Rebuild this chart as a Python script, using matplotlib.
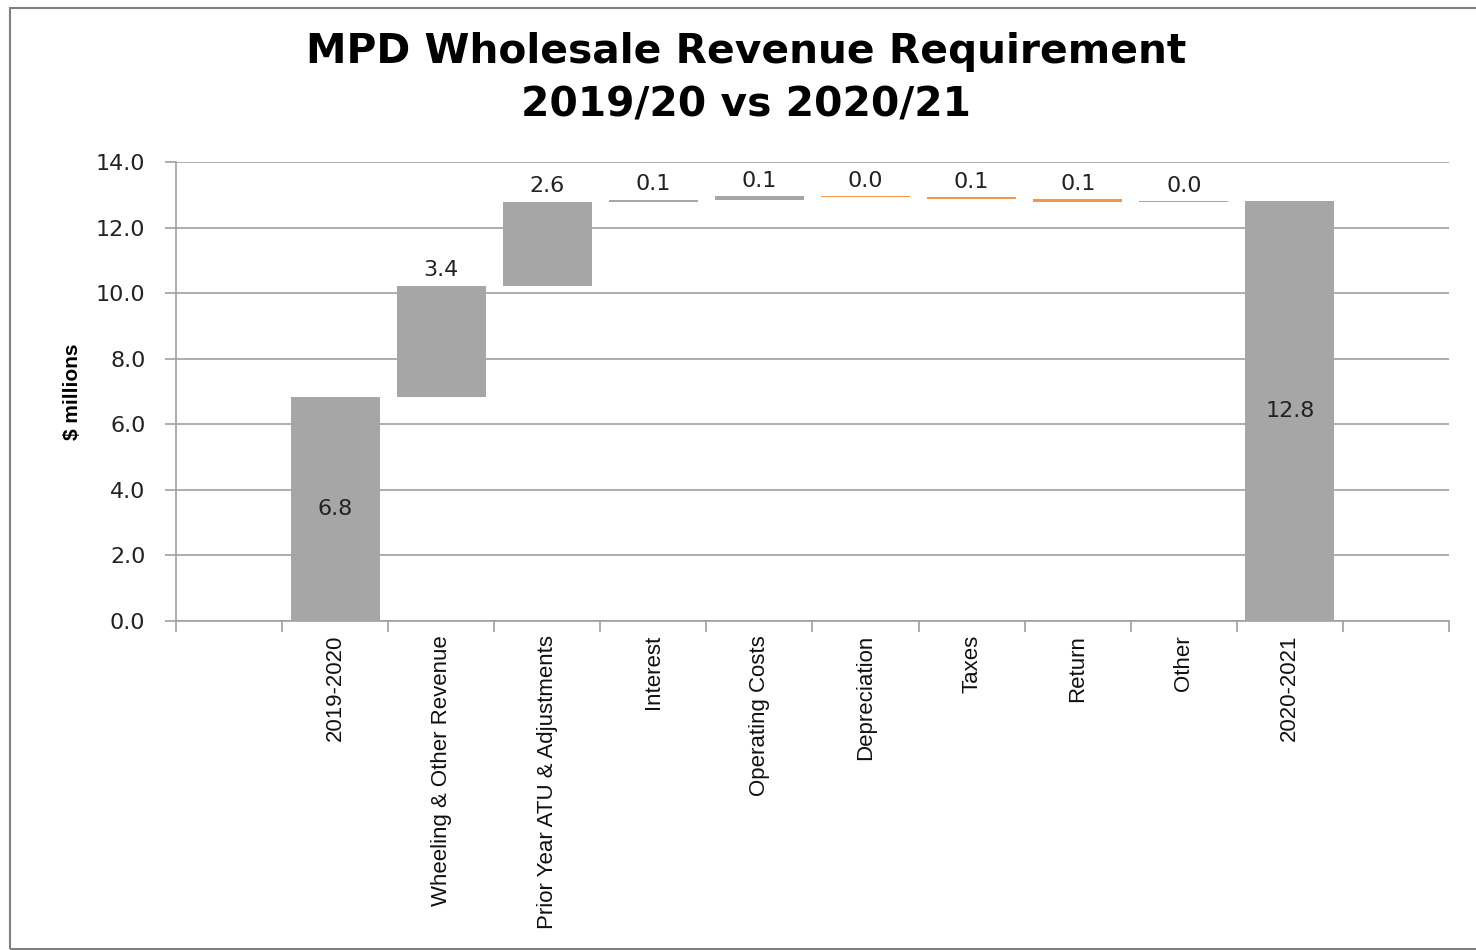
import matplotlib
matplotlib.use("Agg")
import matplotlib.pyplot as plt
from matplotlib.patches import Rectangle
import numpy as np

# Données du graphique en cascade ($ millions)
categories = ['2019-2020', 'Wheeling & Other Revenue', 'Prior Year ATU & Adjustments',
              'Interest', 'Operating Costs', 'Depreciation', 'Taxes', 'Return', 'Other',
              '2020-2021']
start_value = 6.82
changes = [3.41, 2.56, 0.06, 0.10, -0.02, -0.07, -0.07, 0.01]
end_value = 12.80

gray = '#A6A6A6'
orange = '#F79646'
grid_col = '#A0A0A0'
label_font = ['Liberation Sans Narrow', 'Liberation Sans', 'DejaVu Sans']
num_font = ['DejaVu Sans']

W, H = 1476, 950
fig = plt.figure(figsize=(W / 100, H / 100), dpi=100)
ax = fig.add_axes([176 / W, 1 - 621 / H, (1449 - 176) / W, (621 - 162) / H])

# cadre autour de la figure
fig.patches.append(Rectangle((10 / W, 1 / H), 1.2, 1 - 8 / H - 1 / H, transform=fig.transFigure,
                             fill=False, edgecolor='#808080', linewidth=1.5))

width = 0.84
positions = np.arange(1, len(categories) + 1)

# barre de départ
ax.bar(positions[0], start_value, width=width, color=gray, zorder=3)
ax.text(positions[0], start_value / 2, f'{start_value:.1f}', ha='center', va='center',
        fontsize=16, family=num_font, color='#222222', zorder=4)

level = start_value
for i, d in enumerate(changes):
    x = positions[i + 1]
    bottom = min(level, level + d)
    col = gray if d >= 0 else orange
    ax.bar(x, abs(d), bottom=bottom, width=width, color=col, zorder=3)
    top = max(level, level + d)
    ax.annotate(f'{abs(d):.1f}', (x, top), xytext=(0, 4), textcoords='offset points',
                ha='center', va='bottom', fontsize=16, family=num_font, color='#222222')
    level += d

# barre finale
ax.bar(positions[-1], end_value, width=width, color=gray, zorder=3)
ax.text(positions[-1], end_value / 2, f'{end_value:.1f}', ha='center', va='center',
        fontsize=16, family=num_font, color='#222222', zorder=4)

ax.set_xlim(-0.5, len(categories) + 1.5)
ax.set_ylim(0, 14)
ax.set_yticks(np.arange(0, 14.1, 2))
ax.set_yticklabels([f'{v:.1f}' for v in np.arange(0, 14.1, 2)], fontsize=16, family=num_font,
                   color='#222222')
ax.yaxis.grid(True, color=grid_col, linewidth=1.2, zorder=0)
ax.tick_params(axis='y', length=8, width=1.2, color=grid_col, pad=14)

ax.set_xticks(np.arange(-0.5, len(categories) + 2), minor=True)
ax.set_xticks(positions)
ax.set_xticklabels(categories, rotation=90, fontsize=16, family=label_font, color='#111111')
ax.tick_params(axis='x', which='major', length=0, pad=10)
ax.tick_params(axis='x', which='minor', length=8, width=1.2, color=grid_col)

for s in ['top', 'right']:
    ax.spines[s].set_visible(False)
for s in ['left', 'bottom']:
    ax.spines[s].set_color(grid_col)
    ax.spines[s].set_linewidth(1.2)

ax.set_ylabel('$ millions', fontsize=15, fontweight='bold', family=label_font, labelpad=10)

fig.text(746 / W, 1 - 79 / H, 'MPD Wholesale Revenue Requirement\n2019/20 vs 2020/21',
         ha='center', va='center', fontsize=29.3, fontweight='bold', family=['DejaVu Sans'],
         linespacing=1.42)

fig.savefig('out.png', dpi=100)
